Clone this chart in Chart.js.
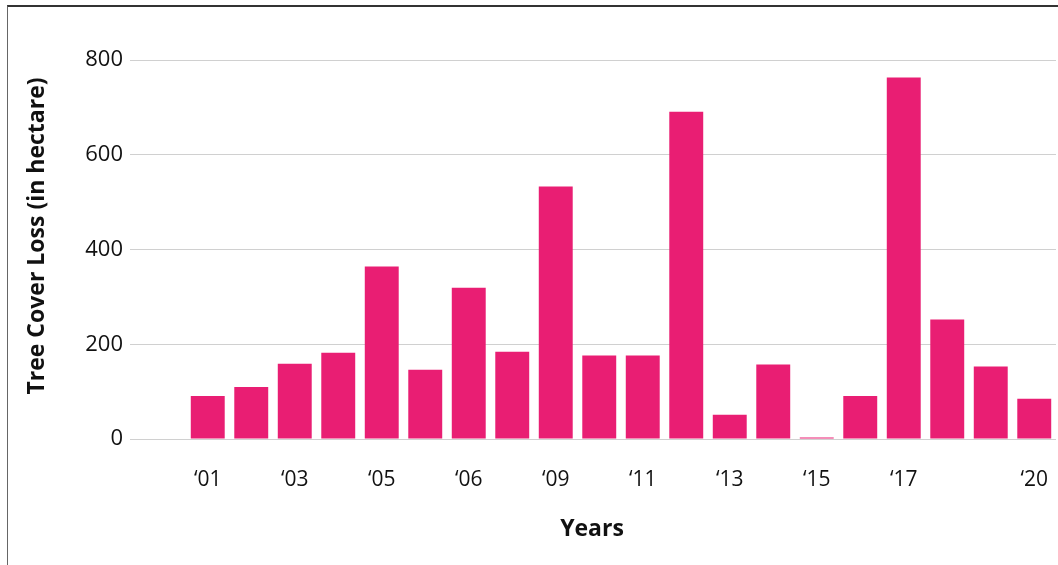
<!DOCTYPE html>
<html>
<head>
<meta charset="utf-8">
<script src="https://cdn.jsdelivr.net/npm/chart.js@4/dist/chart.umd.min.js"></script>
<style>
    body { margin: 0; background: #fff; }
    #wrap { position: relative; width: 1058px; height: 565px; }
    #frame { position: absolute; left: 7px; top: 5px; right: -5px; bottom: -5px; border-top: 2px solid #333; border-left: 1px solid #666; }
    canvas { position: absolute; left: 0; top: 0; }
</style>
</head>
<body>
<div id="wrap">
    <div id="frame"></div>
    <canvas id="chartCanvas" width="1058" height="565"></canvas>
</div>
<script>
const years = ['2001', '2002', '2003', '2004', '2005', '2006', '2007', '2008', '2009', '2010',
    '2011', '2012', '2013', '2014', '2015', '2016', '2017', '2018', '2019', '2020'];
const tickLabels = ['\u201801', '', '\u201803', '', '\u201805', '', '\u201806', '', '\u201809', '',
    '\u201811', '', '\u201813', '', '\u201815', '', '\u201817', '', '', '\u201820'];
const lossValues = [91, 110, 159, 182, 364, 146, 319, 184, 533, 176,
    176, 691, 51, 157, 3, 91, 763, 252, 153, 85];
const yTicks = [0, 200, 400, 600, 800];

const FONT = "'Open Sans', 'Noto Sans', sans-serif";

// axis titles drawn by hand, the reference does not centre them on the plot area
const axisTitles = {
    id: 'axisTitles',
    afterDraw(chart) {
        const ctx = chart.ctx;
        const area = chart.chartArea;
        const tl = chart.scales.y.options.grid.tickLength;
        ctx.save();
        ctx.fillStyle = '#111';
        ctx.textAlign = 'center';
        ctx.textBaseline = 'middle';
        ctx.font = 'bold 23px ' + FONT;
        ctx.fillText('Years', (area.left - tl + area.right) / 2 - 1, 529);
        ctx.translate(37, 236);
        ctx.rotate(-Math.PI / 2);
        ctx.font = 'bold 23px ' + FONT;
        ctx.fillText('Tree Cover Loss (in hectare)', 0, 0);
        ctx.restore();
    },
};

const cha = document.getElementById('chartCanvas').getContext('2d');
new Chart(cha, {
    type: 'bar',
    data: {
        labels: years,
        datasets: [
            {
                label: 'Tree Cover Loss',
                data: lossValues,
                backgroundColor: '#E91E73',
                borderWidth: 0,
                categoryPercentage: 1,
                barPercentage: 0.78,
            },
        ],
    },
    options: {
        responsive: false,
        animation: false,
        layout: {
            padding: { left: 20, right: 2, top: 60, bottom: 0 },
        },
        plugins: {
            legend: { display: false },
            tooltip: { enabled: false },
        },
        scales: {
            x: {
                grid: { display: false, drawTicks: false },
                border: { display: false },
                ticks: {
                    autoSkip: false,
                    maxRotation: 0,
                    padding: 28,
                    color: '#111',
                    font: { family: FONT, size: 21 },
                    callback: (v, i) => tickLabels[i],
                },
                afterFit: (s) => {
                    s.height = 126;
                    s.paddingLeft = 0;
                    s.paddingRight = 0;
                },
            },
            y: {
                min: 0,
                max: 800,
                afterBuildTicks: (s) => { s.ticks = yTicks.map((v) => ({ value: v })); },
                grid: { color: '#d0d0d0', lineWidth: 1, tickLength: 56 },
                border: { display: false },
                ticks: {
                    padding: 7,
                    color: '#111',
                    font: { family: FONT, size: 22 },
                },
                afterFit: (s) => {
                    s.width = 166;
                    s.paddingTop = 0;
                    s.paddingBottom = 0;
                },
            },
        },
    },
    plugins: [axisTitles],
});
</script>
</body>
</html>
